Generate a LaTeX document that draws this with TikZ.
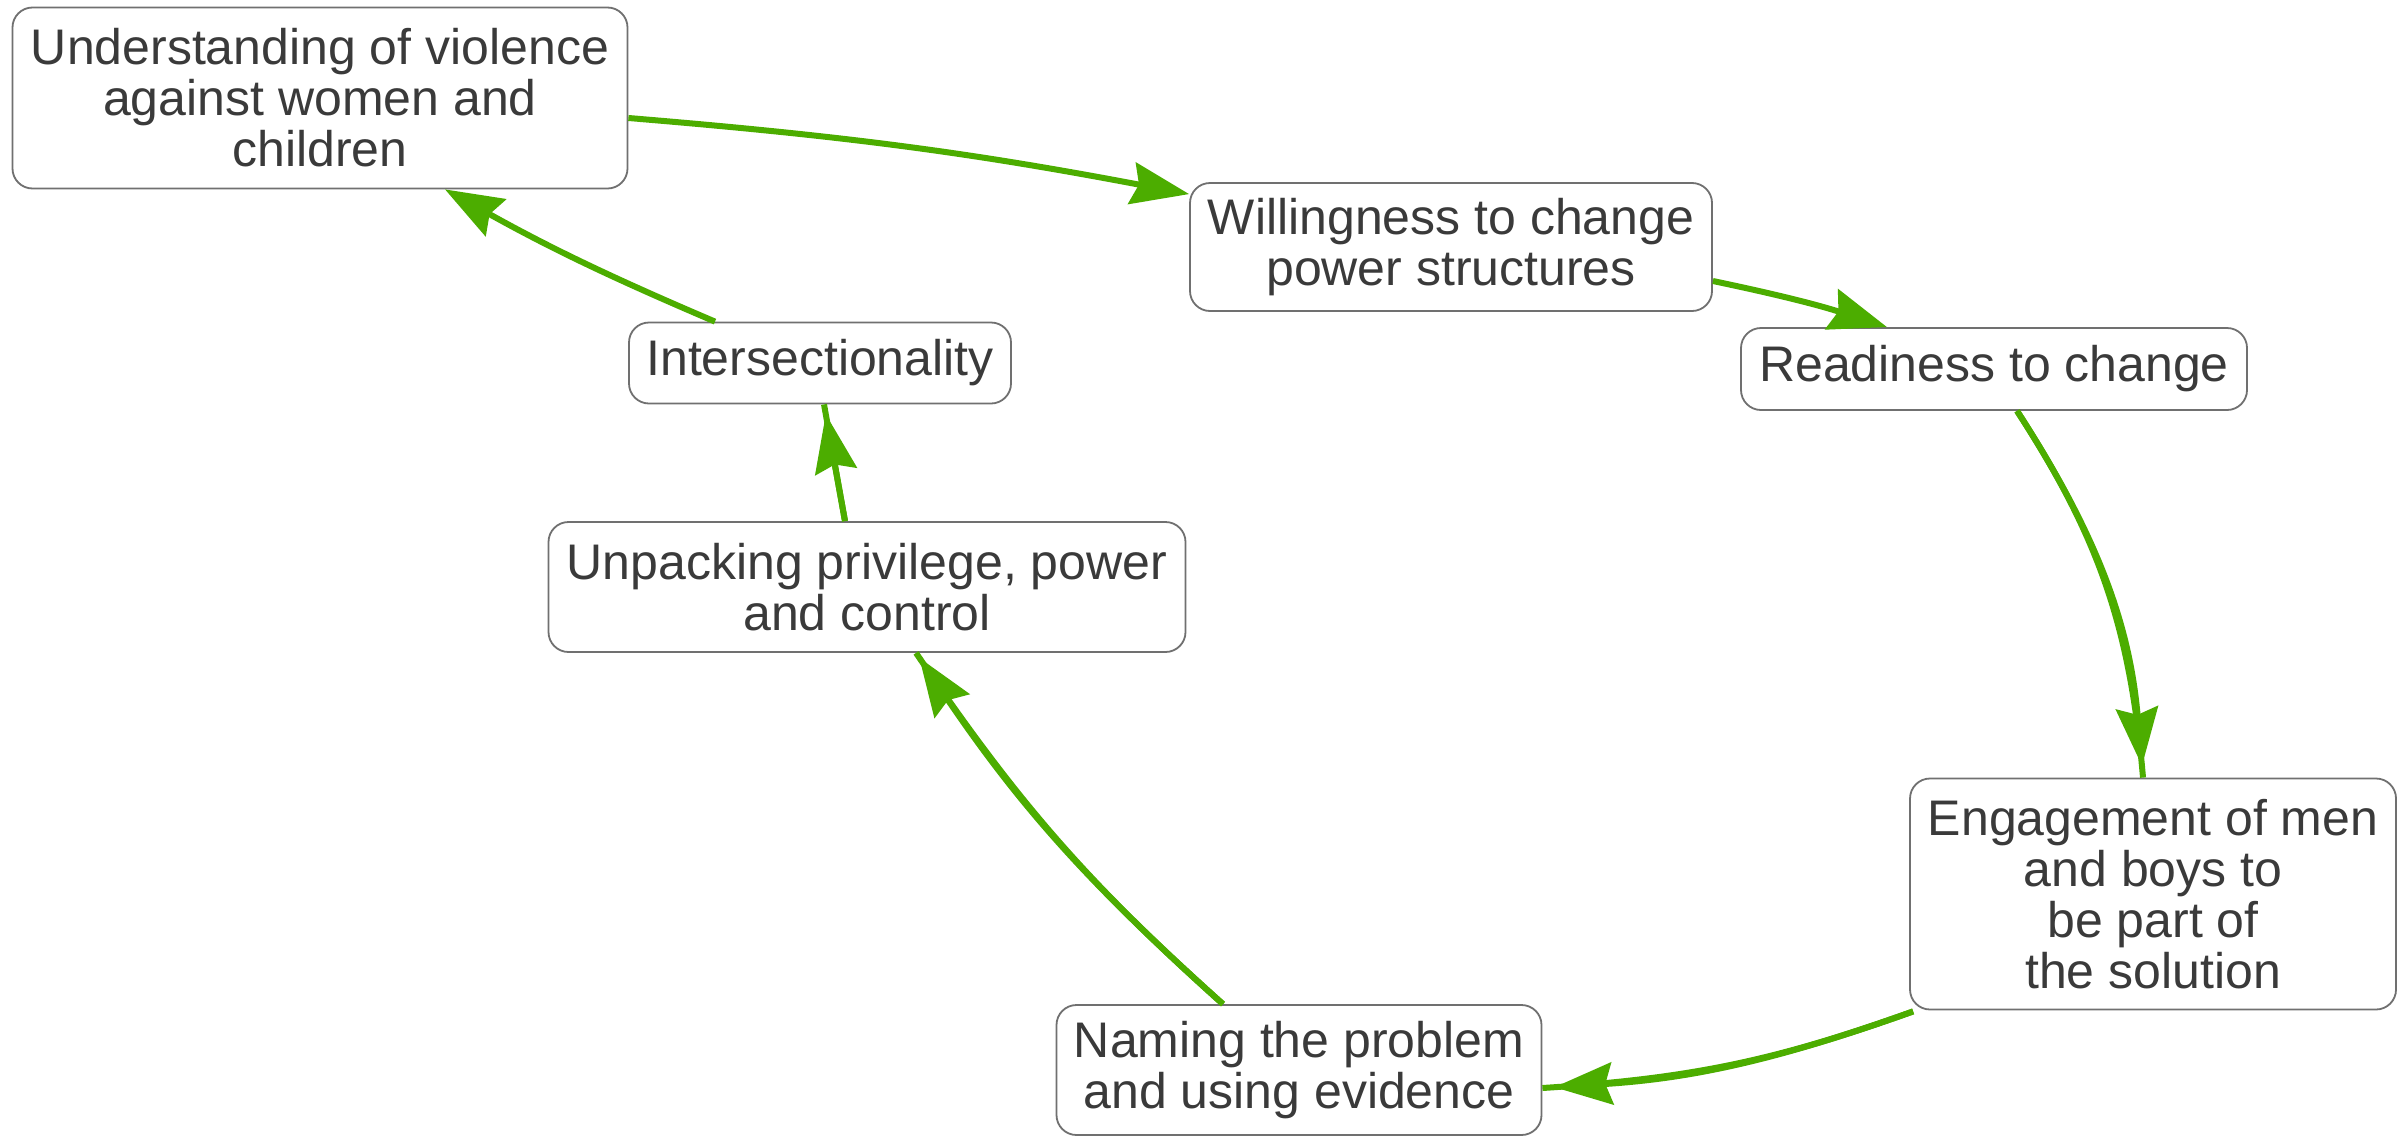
\documentclass[tikz,border=0pt]{standalone}
\usepackage{fontspec}
\setmainfont{Liberation Sans}
\usetikzlibrary{arrows.meta,calc}
\definecolor{arrgreen}{RGB}{76,173,0}
\definecolor{txtgrey}{RGB}{58,58,58}
\definecolor{boxgrey}{RGB}{112,112,112}
\begin{document}
\begin{tikzpicture}[x=1pt,y=-1pt,
  box/.style={draw=boxgrey, line width=1.8pt, rounded corners=20pt, fill=white,
    align=center, inner sep=0pt, text=txtgrey,
    font=\fontsize{50}{51}\selectfont},
  link/.style={draw=arrgreen, line width=6pt},
  tipped/.style={link, -{Stealth[length=58pt,width=42pt,inset=7pt]}}
]
\useasboundingbox[fill=white] (0,0) rectangle (2405,1138);

\node[box, minimum width=615pt, minimum height=181pt] (n1) at (320,98)
  {Understanding of violence\\against women and\\children};
\node[box, minimum width=522pt, minimum height=128pt] (n2) at (1451,247)
  {Willingness to change\\power structures};
\node[box, minimum width=506pt, minimum height=82pt] (n3) at (1994,369)
  {Readiness to change};
\node[box, minimum width=486pt, minimum height=231pt] (n4) at (2153,894)
  {Engagement of men\\and boys to\\be part of\\the solution};
\node[box, minimum width=485pt, minimum height=130pt] (n5) at (1299,1070)
  {Naming the problem\\and using evidence};
\node[box, minimum width=637pt, minimum height=130pt] (n6) at (867,587)
  {Unpacking privilege, power\\and control};
\node[box, minimum width=382pt, minimum height=81pt] (n7) at (820,363)
  {Intersectionality};

% E1
\draw[tipped] ([yshift=-20pt]n1.east) to[bend left=3] ([yshift=-12pt]n2.north west);
% E2
\draw[tipped] ([yshift=-34pt]n2.east) to[bend left=3] ([xshift=-107pt]n3.north);
% E3
\draw[link] ([xshift=23pt]n3.south) to[bend left=14] ([xshift=-10pt]n4.north);
\draw[tipped, shorten >=12pt] ([xshift=23pt]n3.south) to[bend left=14] ([xshift=-10pt]n4.north);
% E4
\draw[link] ([xshift=4pt,yshift=-1pt]n4.south west) to[bend left=8] ([yshift=-18pt]n5.east);
\draw[tipped, shorten >=12pt] ([xshift=4pt,yshift=-1pt]n4.south west) to[bend left=8] ([yshift=-18pt]n5.east);
% E5
\draw[link] ([xshift=-76pt]n5.north) to[bend left=7] ([xshift=49pt]n6.south);
\draw[tipped, shorten >=6pt] ([xshift=-76pt]n5.north) to[bend left=7] ([xshift=49pt]n6.south);
% E6
\draw[link] ([xshift=-22pt]n6.north) -- ([xshift=4pt]n7.south);
\draw[tipped, shorten >=10pt] ([xshift=-22pt]n6.north) -- ([xshift=4pt]n7.south);
% E7
\draw[tipped] ([xshift=-105pt]n7.north) to[bend left=3] ([xshift=125pt]n1.south);

\end{tikzpicture}
\end{document}
